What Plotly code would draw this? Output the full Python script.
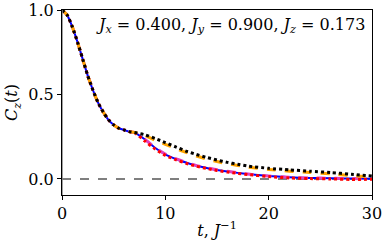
import plotly.graph_objects as go

t_common = [0, 0.5, 1, 1.5, 2, 2.5, 3, 3.5, 4, 4.5, 5, 5.5, 6, 6.5, 7]
v_common = [1.0, 0.97, 0.90, 0.81, 0.71, 0.61, 0.525, 0.45, 0.395, 0.35, 0.32, 0.30, 0.29, 0.28, 0.275]

t_tail = [8, 9, 10, 11, 12, 13, 14, 15, 16, 17, 18, 20, 22, 24, 26, 28, 30]
black_tail = [0.262, 0.24, 0.215, 0.19, 0.165, 0.145, 0.127, 0.112, 0.098, 0.087, 0.076, 0.063, 0.054, 0.046, 0.038, 0.028, 0.018]
orange_tail = [0.258, 0.23, 0.205, 0.18, 0.157, 0.136, 0.118, 0.103, 0.09, 0.08, 0.07, 0.056, 0.046, 0.038, 0.03, 0.02, 0.012]
blue_tail = [0.235, 0.185, 0.145, 0.118, 0.097, 0.078, 0.065, 0.053, 0.044, 0.036, 0.029, 0.017, 0.01, 0.006, 0.004, 0.002, 0.001]
red_tail = [0.225, 0.178, 0.14, 0.114, 0.093, 0.075, 0.062, 0.05, 0.041, 0.033, 0.026, 0.014, 0.006, 0.002, 0.0, -0.003, -0.002]
magenta_tail = [0.235, 0.187, 0.147, 0.12, 0.098, 0.079, 0.066, 0.054, 0.045, 0.037, 0.029, 0.017, 0.01, 0.006, 0.004, 0.002, 0.001]

x_ticks = [0, 10, 20, 30]
y_ticks = [0.0, 0.5, 1.0]
y_tick_labels = ["0.0", "0.5", "1.0"]

FONT = "DejaVu Serif"

fig = go.Figure()

def add(tail, color, dash, width):
    fig.add_trace(go.Scatter(
        x=t_common + t_tail, y=v_common + tail, mode="lines",
        line=dict(color=color, dash=dash, width=width, shape="spline", smoothing=0.6),
        showlegend=False, hoverinfo="skip"))

add(blue_tail, "#0000ff", "solid", 2)
add(magenta_tail, "#e040c0", "dash", 3)
add(red_tail, "#ff0000", "dot", 3)
add(orange_tail, "#ffa500", "dash", 3)
add(black_tail, "#000000", "dot", 3)

fig.add_shape(type="line", xref="x", yref="paper", x0=0, x1=0, y0=0, y1=1,
              line=dict(color="#808080", width=1.5), layer="above")
fig.add_shape(type="line", xref="paper", yref="y", x0=0, x1=1, y0=0, y1=0,
              line=dict(color="#555555", width=1.5, dash="dash"), layer="below")

fig.add_annotation(
    x=0.985, y=0.915, xref="paper", yref="paper", xanchor="right", yanchor="middle",
    showarrow=False,
    text="<i>J</i><sub><i>x</i></sub> = 0.400, <i>J</i><sub><i>y</i></sub> = 0.900, <i>J</i><sub><i>z</i></sub> = 0.173",
    font=dict(family=FONT, size=16, color="black"))

fig.update_xaxes(range=[0, 30], tickvals=x_ticks, ticks="outside", ticklen=4, tickcolor="black",
                 showline=True, linecolor="black", linewidth=1, mirror=True, showgrid=False,
                 zeroline=False, automargin=False, tickfont=dict(family=FONT, size=16, color="black"),
                 title=dict(text="<i>t</i>, <i>J</i><sup>−1</sup>", font=dict(family=FONT, size=16, color="black"), standoff=2))
fig.update_yaxes(range=[-0.095, 1.0], tickvals=y_ticks, ticktext=y_tick_labels, ticks="outside", ticklen=4,
                 tickcolor="black", showline=True, linecolor="black", linewidth=1, mirror=True,
                 showgrid=False, zeroline=False, automargin=False, tickfont=dict(family=FONT, size=16, color="black"),
                 title=dict(text="<i>C</i><sub><i>z</i></sub>(<i>t</i>)", font=dict(family=FONT, size=16, color="black"), standoff=6))

fig.update_layout(width=387, height=242, margin=dict(l=62, r=15, t=10, b=47),
                  plot_bgcolor="white", paper_bgcolor="white")

fig.write_html("out.html", config={"displayModeBar": False},
               post_script="document.body.style.margin='0';document.body.style.overflow='hidden';")
